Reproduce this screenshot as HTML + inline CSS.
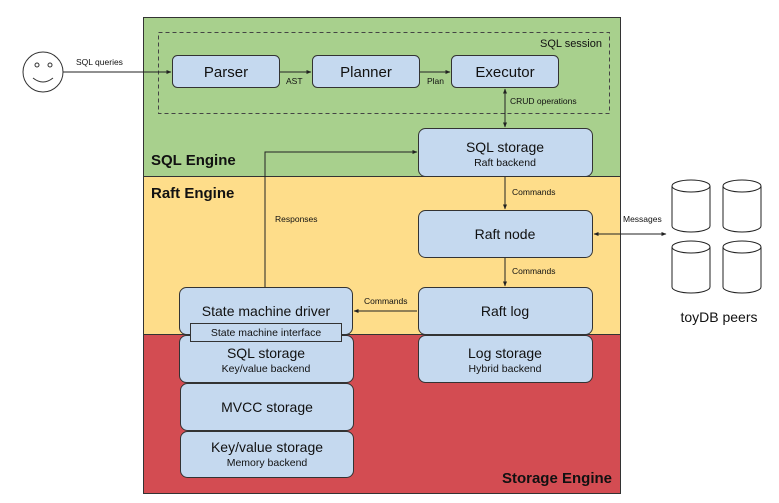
<!DOCTYPE html>
<html><head><meta charset="utf-8"><style>
html,body{margin:0;padding:0;background:#fff}
svg{display:block}
text{font-family:"Liberation Sans",sans-serif;fill:#111}
</style></head><body>
<svg width="779" height="503" viewBox="0 0 779 503" xmlns="http://www.w3.org/2000/svg">
<defs>
<marker id="a" viewBox="0 0 10 10" refX="9" refY="5" markerWidth="5" markerHeight="5" orient="auto-start-reverse"><path d="M0,1 L10,5 L0,9 z" fill="#222"/></marker>
</defs>
<rect x="143.5" y="17.5" width="477" height="159" fill="#a8d08d" stroke="#333"/>
<rect x="143.5" y="176.5" width="477" height="158" fill="#fedd8a" stroke="#333"/>
<rect x="143.5" y="334.5" width="477" height="159" fill="#d34c52" stroke="#333"/>
<rect x="158.5" y="32.5" width="451" height="81" fill="none" stroke="#444" stroke-dasharray="4,3"/>
<text x="602" y="47" font-size="11" text-anchor="end">SQL session</text>
<text x="151" y="165" font-size="15" font-weight="bold">SQL Engine</text>
<text x="151" y="198" font-size="15" font-weight="bold">Raft Engine</text>
<text x="612" y="483" font-size="15" font-weight="bold" text-anchor="end">Storage Engine</text>
<g fill="#c5d9ef" stroke="#333">
<rect x="172.5" y="55.5" width="107" height="32" rx="5"/>
<rect x="312.5" y="55.5" width="107" height="32" rx="5"/>
<rect x="451.5" y="55.5" width="107" height="32" rx="5"/>
<rect x="418.5" y="128.5" width="174" height="48" rx="7"/>
<rect x="418.5" y="210.5" width="174" height="47" rx="7"/>
<rect x="418.5" y="287.5" width="174" height="47" rx="7"/>
<rect x="418.5" y="335.5" width="174" height="47" rx="7"/>
<rect x="179.5" y="287.5" width="173" height="47" rx="7"/>
<rect x="179.5" y="335.5" width="174" height="47" rx="7"/>
<rect x="180.5" y="383.5" width="173" height="47" rx="7"/>
<rect x="180.5" y="431.5" width="173" height="46" rx="7"/>
<rect x="190.5" y="323.5" width="151" height="18" rx="0"/>
</g>
<g text-anchor="middle">
<text x="226" y="77" font-size="15">Parser</text>
<text x="366" y="77" font-size="15">Planner</text>
<text x="505" y="77" font-size="15">Executor</text>
<text x="505" y="152" font-size="14">SQL storage</text>
<text x="505" y="166" font-size="10.5">Raft backend</text>
<text x="505" y="239" font-size="14">Raft node</text>
<text x="505" y="316" font-size="14">Raft log</text>
<text x="505" y="358" font-size="14">Log storage</text>
<text x="505" y="372" font-size="10.5">Hybrid backend</text>
<text x="266" y="316" font-size="14">State machine driver</text>
<text x="266" y="336" font-size="10.5">State machine interface</text>
<text x="266" y="358" font-size="14">SQL storage</text>
<text x="266" y="372" font-size="10.5">Key/value backend</text>
<text x="267" y="412" font-size="14">MVCC storage</text>
<text x="267" y="452" font-size="14">Key/value storage</text>
<text x="267" y="466" font-size="10.5">Memory backend</text>
<text x="719" y="322" font-size="14">toyDB peers</text>
</g>
<g stroke="#222" fill="none">
<line x1="63" y1="72" x2="171" y2="72" marker-end="url(#a)"/>
<line x1="280" y1="72" x2="311" y2="72" marker-end="url(#a)"/>
<line x1="420" y1="72" x2="450" y2="72" marker-end="url(#a)"/>
<line x1="505" y1="89" x2="505" y2="127" marker-start="url(#a)" marker-end="url(#a)"/>
<line x1="505" y1="177" x2="505" y2="209" marker-end="url(#a)"/>
<line x1="505" y1="258" x2="505" y2="286" marker-end="url(#a)"/>
<line x1="417" y1="311" x2="354" y2="311" marker-end="url(#a)"/>
<polyline points="265,287 265,152 417,152" marker-end="url(#a)"/>
<line x1="594" y1="234" x2="666" y2="234" marker-start="url(#a)" marker-end="url(#a)"/>
<circle cx="43" cy="72" r="20" stroke="#333"/>
<path d="M33,78 Q43,86 53,78" stroke="#333"/>
</g>
<circle cx="37" cy="65" r="2" fill="none" stroke="#333"/>
<circle cx="50" cy="65" r="2" fill="none" stroke="#333"/>
<g font-size="8.5">
<text x="76" y="65">SQL queries</text>
<text x="286" y="84">AST</text>
<text x="427" y="84">Plan</text>
<text x="510" y="104">CRUD operations</text>
<text x="512" y="195">Commands</text>
<text x="512" y="274">Commands</text>
<text x="364" y="304">Commands</text>
<text x="275" y="222">Responses</text>
<text x="623" y="222">Messages</text>
</g>
<g fill="#fff" stroke="#222">
<path d="M672,186 v40 a19,6 0 0 0 38,0 v-40"/><ellipse cx="691" cy="186" rx="19" ry="6"/>
<path d="M723,186 v40 a19,6 0 0 0 38,0 v-40"/><ellipse cx="742" cy="186" rx="19" ry="6"/>
<path d="M672,247 v40 a19,6 0 0 0 38,0 v-40"/><ellipse cx="691" cy="247" rx="19" ry="6"/>
<path d="M723,247 v40 a19,6 0 0 0 38,0 v-40"/><ellipse cx="742" cy="247" rx="19" ry="6"/>
</g>
</svg>
</body></html>
